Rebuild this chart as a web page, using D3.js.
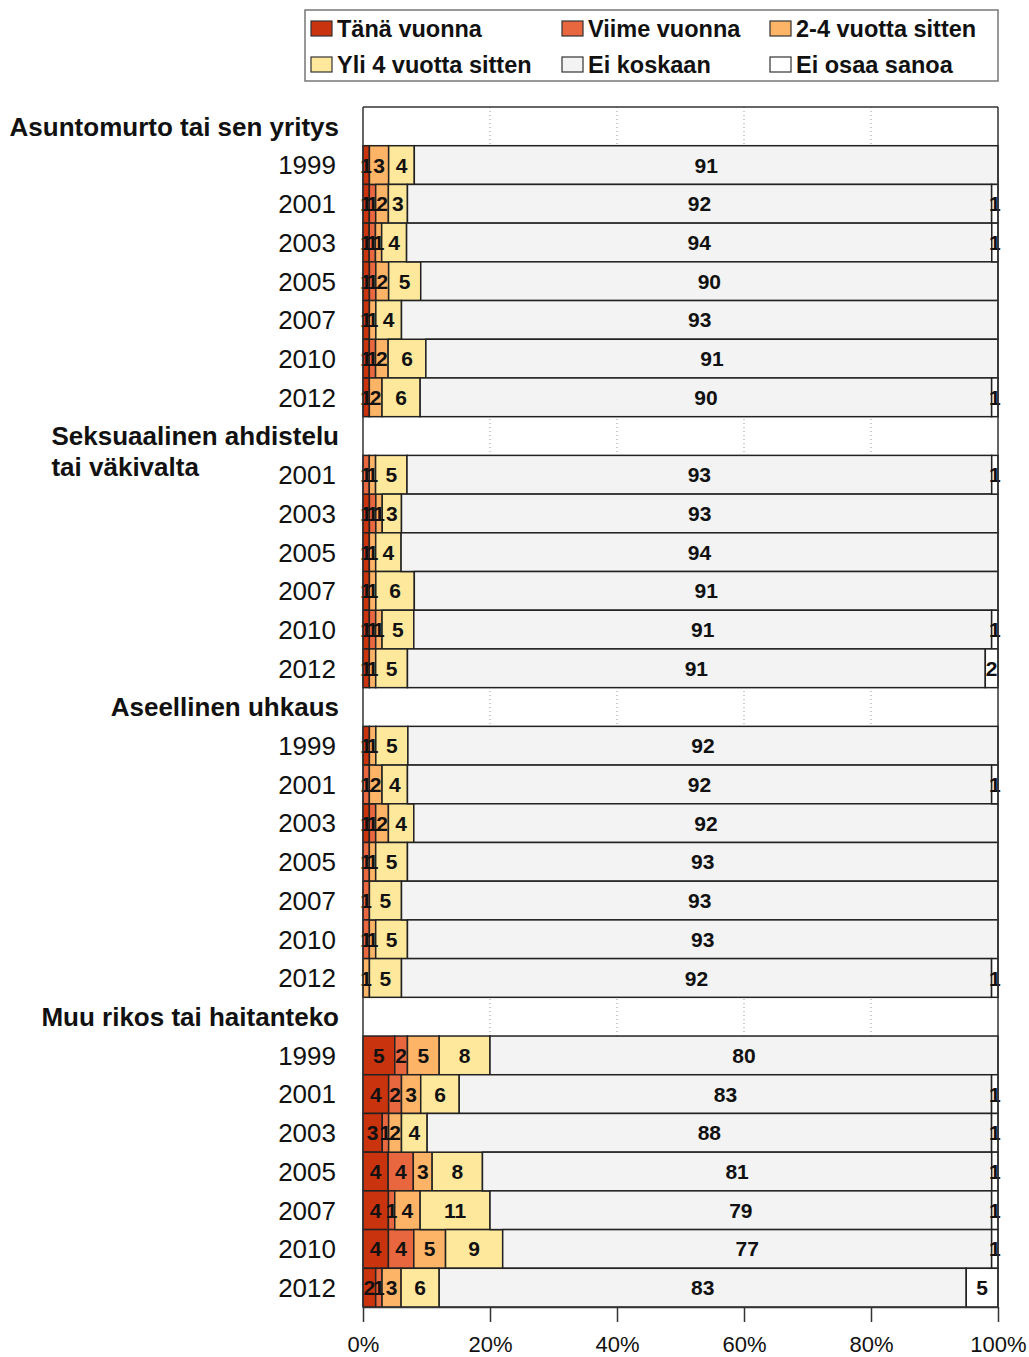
<!DOCTYPE html>
<html>
<head>
<meta charset="utf-8">
<script src="https://cdn.jsdelivr.net/npm/d3@7"></script>
<style>
  body { margin: 0; background: #fff; }
  svg { font-family: "Liberation Sans", Arial, sans-serif; }
</style>
</head>
<body>
<svg></svg>
<script>
const width = 1029;
const height = 1357;

// ---------------- data ----------------
const groupNames = [
    "Asuntomurto tai sen yritys",
    "Seksuaalinen ahdistelu\ntai väkivalta",
    "Aseellinen uhkaus",
    "Muu rikos tai haitanteko"
];

const groupYears = [
    [1999, 2001, 2003, 2005, 2007, 2010, 2012],
    [2001, 2003, 2005, 2007, 2010, 2012],
    [1999, 2001, 2003, 2005, 2007, 2010, 2012],
    [1999, 2001, 2003, 2005, 2007, 2010, 2012]
];

const seriesNames = ["Tänä vuonna", "Viime vuonna", "2-4 vuotta sitten",
    "Yli 4 vuotta sitten", "Ei koskaan", "Ei osaa sanoa"];
const seriesColors = ["#c9340f", "#e9673f", "#fdb466", "#fee89c", "#f3f3f3", "#ffffff"];

// one value per row, rows in the order of groupYears
const tanaVuonna   = [1, 1, 1, 1, 1, 1, 1,   0, 1, 1, 1, 1, 1,   1, 0, 1, 0, 0, 0, 0,   5, 4, 3, 4, 4, 4, 2];
const viimeVuonna  = [0, 1, 1, 1, 0, 1, 0,   1, 1, 0, 0, 1, 0,   0, 1, 1, 1, 1, 1, 0,   2, 2, 1, 4, 1, 4, 1];
const vuotta2to4   = [3, 2, 1, 2, 1, 2, 2,   1, 1, 1, 1, 1, 1,   1, 2, 2, 1, 0, 1, 1,   5, 3, 2, 3, 4, 5, 3];
const yli4Vuotta   = [4, 3, 4, 5, 4, 6, 6,   5, 3, 4, 6, 5, 5,   5, 4, 4, 5, 5, 5, 5,   8, 6, 4, 8, 11, 9, 6];
const eiKoskaan    = [91, 92, 94, 90, 93, 91, 90,   93, 93, 94, 91, 91, 91,   92, 92, 92, 93, 93, 93, 92,   80, 83, 88, 81, 79, 77, 83];
const eiOsaaSanoa  = [0, 1, 1, 0, 0, 0, 1,   1, 0, 0, 0, 1, 2,   0, 1, 0, 0, 0, 0, 1,   0, 1, 1, 1, 1, 1, 5];

const xTicks = [0, 0.2, 0.4, 0.6, 0.8, 1];

// ---------------- build rows / slots ----------------
const seriesKeys = ["s0", "s1", "s2", "s3", "s4", "s5"];
const seriesValues = [tanaVuonna, viimeVuonna, vuotta2to4, yli4Vuotta, eiKoskaan, eiOsaaSanoa];

const slots = [];
const rows = [];
let rowIndex = 0;
groupNames.forEach((g, gi) => {
    slots.push({ key: "h" + gi, header: g });
    groupYears[gi].forEach(yr => {
        const key = "r" + rowIndex;
        slots.push({ key: key, year: yr });
        const row = { key: key };
        seriesKeys.forEach((k, si) => row[k] = seriesValues[si][rowIndex]);
        rows.push(row);
        rowIndex++;
    });
});

const svg = d3.select("svg")
    .attr("width", width)
    .attr("height", height);

const plotLeft = 363, plotRight = 998, plotTop = 107, plotBottom = 1307;

const x = d3.scaleLinear().domain([0, 1]).range([plotLeft, plotRight]);
const y = d3.scaleBand().domain(slots.map(d => d.key)).range([plotTop, plotBottom]).padding(0);
const color = d3.scaleOrdinal().domain(seriesKeys).range(seriesColors);

const stacked = d3.stack().keys(seriesKeys).offset(d3.stackOffsetExpand)(rows);

// gridlines
svg.append("g")
    .selectAll("line")
    .data(xTicks.slice(1, -1))
    .enter().append("line")
    .attr("x1", d => x(d)).attr("x2", d => x(d))
    .attr("y1", plotTop).attr("y2", plotBottom)
    .attr("stroke", "#999")
    .attr("stroke-width", 1)
    .attr("stroke-dasharray", "1,3");

// bars
const layer = svg.append("g")
    .selectAll("g")
    .data(stacked)
    .enter().append("g")
    .attr("fill", d => color(d.key));

layer.selectAll("rect")
    .data(d => d.filter(p => p[1] - p[0] > 0))
    .enter().append("rect")
    .attr("x", d => x(d[0]))
    .attr("y", d => y(d.data.key))
    .attr("width", d => x(d[1]) - x(d[0]))
    .attr("height", y.bandwidth())
    .attr("stroke", "#222")
    .attr("stroke-width", 1.5);

// value labels
const labels = svg.append("g")
    .attr("font-size", 21)
    .attr("font-weight", "bold")
    .attr("fill", "#111")
    .attr("text-anchor", "middle");

stacked.forEach(s => {
    labels.selectAll(null)
        .data(s.filter(p => p.data[s.key] > 0))
        .enter().append("text")
        .attr("x", d => (x(d[0]) + x(d[1])) / 2)
        .attr("y", d => y(d.data.key) + y.bandwidth() / 2)
        .attr("dy", "0.36em")
        .text(d => d.data[s.key]);
});

// frame
svg.append("line")
    .attr("x1", plotLeft).attr("x2", plotRight)
    .attr("y1", plotTop).attr("y2", plotTop)
    .attr("stroke", "#333").attr("stroke-width", 1.5);
svg.append("line")
    .attr("x1", plotLeft).attr("x2", plotLeft)
    .attr("y1", plotTop).attr("y2", plotBottom)
    .attr("stroke", "#333").attr("stroke-width", 1.5);
svg.append("line")
    .attr("x1", plotRight).attr("x2", plotRight)
    .attr("y1", plotTop).attr("y2", plotBottom)
    .attr("stroke", "#333").attr("stroke-width", 1.5);

// x axis
const xAxis = svg.append("g")
    .attr("transform", `translate(0,${plotBottom})`)
    .call(d3.axisBottom(x)
        .tickValues(xTicks)
        .tickFormat(d3.format(".0%"))
        .tickSize(15)
        .tickSizeOuter(0)
        .tickPadding(14));
xAxis.select(".domain").attr("stroke", "#333").attr("stroke-width", 1.5);
xAxis.selectAll(".tick line").attr("stroke", "#333").attr("stroke-width", 1.5);
xAxis.selectAll(".tick text")
    .attr("font-size", 22)
    .attr("font-family", "'Liberation Sans', Arial, sans-serif")
    .attr("fill", "#111");

// year labels
svg.append("g")
    .selectAll("text")
    .data(slots.filter(d => d.year))
    .enter().append("text")
    .attr("x", 336)
    .attr("y", d => y(d.key) + y.bandwidth() / 2)
    .attr("dy", "0.36em")
    .attr("text-anchor", "end")
    .attr("font-size", 26)
    .attr("fill", "#111")
    .text(d => d.year);

// group headers
const headerG = svg.append("g")
    .attr("font-size", 26)
    .attr("font-weight", "bold")
    .attr("fill", "#111");

slots.filter(d => d.header).forEach(d => {
    const lines = d.header.split("\n");
    const t = headerG.append("text")
        .attr("x", 339)
        .attr("y", y(d.key) + y.bandwidth() / 2)
        .attr("dy", "0.36em")
        .attr("text-anchor", "end")
        .text(lines[0]);
    if (lines.length > 1) {
        const left = 339 - t.node().getComputedTextLength();
        t.attr("text-anchor", "start").attr("x", left);
        headerG.append("text")
            .attr("x", left)
            .attr("y", y(d.key) + y.bandwidth() / 2 + 31)
            .attr("dy", "0.36em")
            .text(lines[1]);
    }
});

// legend
const legend = svg.append("g");
legend.append("rect")
    .attr("x", 305).attr("y", 10)
    .attr("width", 693).attr("height", 71)
    .attr("fill", "#fff")
    .attr("stroke", "#777")
    .attr("stroke-width", 1.5);

const legendCols = [311, 562, 770];
const legendRows = [29, 65];

const item = legend.selectAll("g.item")
    .data(seriesNames)
    .enter().append("g")
    .attr("class", "item")
    .attr("transform", (d, i) => `translate(${legendCols[i % 3]},${legendRows[Math.floor(i / 3)]})`);

item.append("rect")
    .attr("x", 0).attr("y", -8)
    .attr("width", 21).attr("height", 15)
    .attr("fill", (d, i) => seriesColors[i])
    .attr("stroke", "#333")
    .attr("stroke-width", 1.2);

item.append("text")
    .attr("x", 26)
    .attr("y", 0)
    .attr("dy", "0.36em")
    .attr("font-size", 23.5)
    .attr("font-weight", "bold")
    .attr("fill", "#111")
    .text(d => d);
</script>
</body>
</html>
